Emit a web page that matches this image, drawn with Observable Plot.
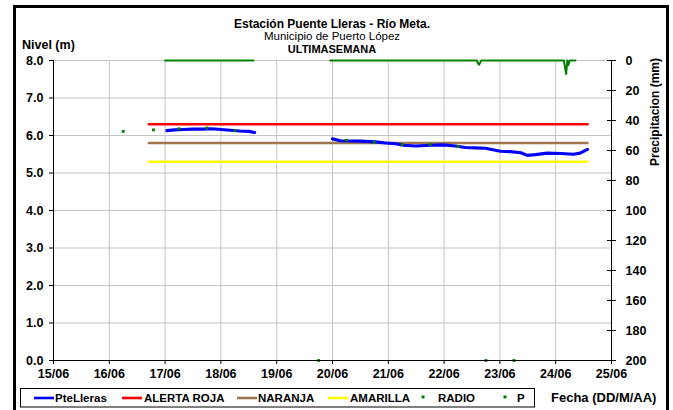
<!DOCTYPE html>
<html>
<head>
<meta charset="utf-8">
<script src="https://cdn.jsdelivr.net/npm/d3@7"></script>
<script src="https://cdn.jsdelivr.net/npm/@observablehq/plot@0.6"></script>
<style>
  html, body { margin: 0; padding: 0; background: #fff; }
  svg { display: block; }
</style>
</head>
<body>
<div id="chart"></div>
<script>
// ---------- data ----------
const titleText = "Estación Puente Lleras - Río Meta.";
const subtitleText = "Municipio de Puerto López";
const subtitle2Text = "ULTIMASEMANA";
const yLeftLabel = "Nivel (m)";
const yRightLabel = "Precipitacion (mm)";
const xLabel = "Fecha (DD/M/AA)";

const domainStart = "15/06 00:00";
const domainEnd = "25/06 00:00";
const levelTicks = [0, 1, 2, 3, 4, 5, 6, 7, 8];
const precipTicks = [0, 20, 40, 60, 80, 100, 120, 140, 160, 180, 200];
const precipMax = 200;

// PteLleras water level (m); null = gap in the record
const levelTimes = [
  "17/06 00:45", "17/06 04:00", "17/06 08:00", "17/06 12:00", "17/06 16:00", "17/06 20:00",
  "18/06 00:00", "18/06 04:00", "18/06 08:00", "18/06 12:00", "18/06 14:30",
  "19/06 12:00",
  "20/06 00:00", "20/06 03:20", "20/06 12:00", "20/06 18:30", "20/06 22:50", "21/06 03:10",
  "21/06 06:30", "21/06 11:45", "21/06 18:15", "21/06 23:45", "22/06 04:50", "22/06 09:10",
  "22/06 13:25", "22/06 17:45", "23/06 00:15", "23/06 04:30", "23/06 09:00", "23/06 11:45",
  "23/06 15:20", "23/06 20:25", "24/06 02:10", "24/06 07:40", "24/06 10:30", "24/06 13:40"
];
const levelValues = [
  6.13, 6.15, 6.16, 6.17, 6.17, 6.18,
  6.16, 6.14, 6.12, 6.11, 6.08,
  null,
  5.91, 5.86, 5.85, 5.83, 5.80, 5.78,
  5.74, 5.72, 5.74, 5.75, 5.72, 5.68,
  5.67, 5.66, 5.58, 5.57, 5.54, 5.47,
  5.49, 5.53, 5.52, 5.50, 5.53, 5.63
];

// threshold levels
const thresholdNames = ["ALERTA ROJA", "NARANJA", "AMARILLA"];
const thresholdValues = [6.3, 5.8, 5.3];
const thresholdColors = ["#ff0000", "#a0764f", "#ffff00"];
const thresholdStart = "16/06 17:00";
const thresholdEnd = "24/06 13:40";

// RADIO readings (m)
const radioTimes = [
  "16/06 06:00", "16/06 19:00", "17/06 06:00", "17/06 18:00", "18/06 06:00", "19/06 18:00",
  "20/06 06:00", "20/06 18:00", "21/06 06:00", "21/06 18:00", "22/06 06:00", "22/06 18:00",
  "23/06 06:00"
];
const radioValues = [6.11, 6.15, 6.18, 6.20, 6.13, 0, 5.87, 5.82, 5.76, 5.76, 5.71, 0, 0];

// P precipitation (mm); null = gap
const precipTimes = [
  "17/06 00:00", "18/06 14:00", "19/06 06:00",
  "19/06 23:00", "22/06 14:00", "22/06 15:00", "22/06 16:00",
  "24/06 03:30", "24/06 04:30", "24/06 05:00", "24/06 05:30", "24/06 06:00", "24/06 08:30"
];
const precipValues = [0, 0, null, 0, 0, 3, 0, 0, 9, 0, 3, 0, 0];

const legendNames = ["PteLleras", "ALERTA ROJA", "NARANJA", "AMARILLA", "RADIO", "P"];
const legendColors = ["#0000ff", "#ff0000", "#a0764f", "#ffff00", "#008000", "#008000"];
const legendKinds = ["line", "line", "line", "line", "dot", "dot"];

// ---------- build ----------
const parse = d3.utcParse("%d/%m %H:%M");
const t0 = parse(domainStart), t1 = parse(domainEnd);
const dayTicks = d3.utcDay.range(t0, d3.utcDay.offset(t1, 1));
const toLevel = p => levelTicks[levelTicks.length - 1] * (1 - p / precipMax);

const level = levelTimes.map((t, i) => ({t: parse(t), v: levelValues[i]}));
const radio = radioTimes.map((t, i) => ({t: parse(t), v: radioValues[i]}));
const precip = precipTimes.map((t, i) => ({t: parse(t), v: precipValues[i] == null ? null : toLevel(precipValues[i])}));
const thresholds = thresholdNames.flatMap((n, i) => [
  {name: n, t: parse(thresholdStart), v: thresholdValues[i]},
  {name: n, t: parse(thresholdEnd), v: thresholdValues[i]}
]);
const colorOf = Object.fromEntries(thresholdNames.map((n, i) => [n, thresholdColors[i]]));

const FONT = "'Liberation Sans', Arial, sans-serif";

const plot = Plot.plot({
  width: 673,
  height: 410,
  marginTop: 60,
  marginLeft: 53,
  marginRight: 62,
  marginBottom: 50,
  x: {type: "utc", domain: [t0, t1], label: null},
  y: {domain: [0, 8], label: null},
  style: {fontFamily: FONT, fontSize: "12.5px", fontWeight: "bold", color: "#000", background: "#fff"},
  marks: [
    Plot.gridX(dayTicks.slice(1, -1), {stroke: "#c4c4c4", strokeOpacity: 1, strokeWidth: 1}),
    Plot.gridY(levelTicks.slice(1), {stroke: "#c4c4c4", strokeOpacity: 1, strokeWidth: 1}),
    Plot.line(thresholds, {x: "t", y: "v", z: "name", stroke: d => colorOf[d.name], strokeWidth: 2.6}),
    Plot.line(level, {x: "t", y: "v", stroke: "#0000ff", strokeWidth: 3.2, curve: "linear"}),
    Plot.dot(radio, {x: "t", y: "v", symbol: "square", r: 1.6, fill: "#008000", stroke: null}),
    Plot.line(precip, {x: "t", y: "v", stroke: "#008000", strokeWidth: 2, strokeDasharray: "7,1"}),
    Plot.ruleY([0], {stroke: "#000", strokeWidth: 1}),
    Plot.ruleX([t0], {stroke: "#000", strokeWidth: 1}),
    Plot.ruleX([t1], {stroke: "#000", strokeWidth: 1}),
    Plot.ruleY(precipTicks, {y: toLevel, x1: t1, x2: t1, insetLeft: -4, insetRight: -5, stroke: "#000"}),
    Plot.axisX(dayTicks, {tickFormat: d3.utcFormat("%d/%m"), tickSize: 4, tickPadding: 5, label: null, fontWeight: "bold"}),
    Plot.axisY(levelTicks, {anchor: "left", tickFormat: d3.format(".1f"), tickSize: 4, tickPadding: 6, label: null}),
    Plot.axisY(precipTicks.map(toLevel), {anchor: "right", tickFormat: v => Math.round((8 - v) / 8 * precipMax), tickSize: 0, tickPadding: 14, textAnchor: "start", label: null})
  ]
});

document.getElementById("chart").appendChild(plot);

// ---------- decorations ----------
const svg = d3.select(plot);
const cx = 53 + (673 - 53 - 62) / 2;
const addText = (x, y, anchor, font, txt) =>
  svg.append("text").attr("x", x).attr("y", y).attr("text-anchor", anchor)
    .style("font", font).attr("fill", "#000").text(txt);

addText(cx, 27.5, "middle", `bold 12px ${FONT}`, titleText);
addText(cx, 40, "middle", `normal 11.5px ${FONT}`, subtitleText);
addText(cx, 52.5, "middle", `bold 11px ${FONT}`, subtitle2Text);
addText(22, 49, "start", `bold 12.5px ${FONT}`, yLeftLabel);
svg.append("text").attr("transform", "translate(659,112) rotate(-90)").attr("text-anchor", "middle")
  .style("font", `bold 12px ${FONT}`).attr("fill", "#000").text(yRightLabel);
addText(551, 402, "start", `bold 13px ${FONT}`, xLabel);

// legend box
svg.append("rect").attr("x", 20.5).attr("y", 388.5).attr("width", 514).attr("height", 18.5)
  .attr("fill", "#fff").attr("stroke", "#000").attr("stroke-width", 1);
const legendX = [34, 122, 237, 328, 423, 505];
const legendTextX = [55, 144, 258, 350, 438, 517];
legendNames.forEach((n, i) => {
  if (legendKinds[i] === "line") {
    svg.append("line").attr("x1", legendX[i]).attr("x2", legendX[i] + 20).attr("y1", 398).attr("y2", 398)
      .attr("stroke", legendColors[i]).attr("stroke-width", 2.6);
  } else {
    svg.append("rect").attr("x", legendX[i] - 1.5).attr("y", 395.5).attr("width", 3).attr("height", 3)
      .attr("fill", legendColors[i]);
  }
  addText(legendTextX[i], 402, "start", `bold 11.5px ${FONT}`, n);
});

// outer frame
svg.append("rect").attr("x", 14.5).attr("y", 6.5).attr("width", 653).attr("height", 420)
  .attr("fill", "none").attr("stroke", "#000").attr("stroke-width", 3);
</script>
</body>
</html>
